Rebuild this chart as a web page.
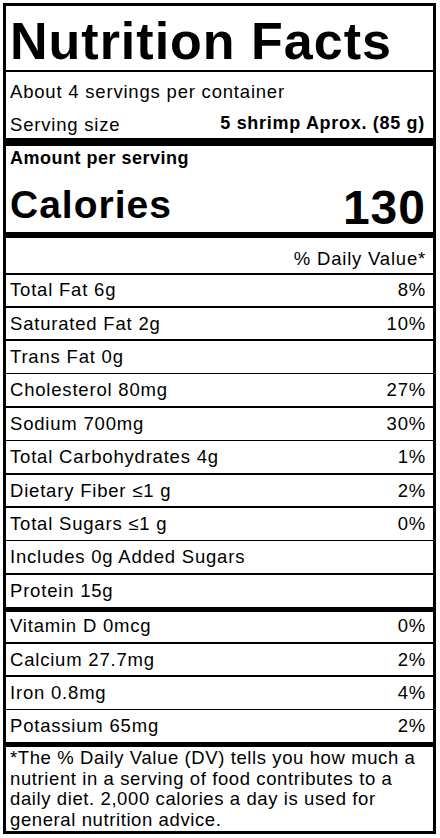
<!DOCTYPE html>
<html><head><meta charset="utf-8">
<script src="https://cdn.jsdelivr.net/npm/chart.js@4"></script>
<style>
body{margin:0;background:#fff;font-family:"Liberation Sans",Arial,sans-serif;color:#000}
#lbl{position:absolute;left:3px;top:3px;width:427px;height:825px;border:3px solid #000}
.t{position:absolute;white-space:nowrap}
.ln{position:absolute;left:0;width:427px;background:#000}
</style></head><body>
<div id="lbl"></div>
<script>
const title="Nutrition Facts";
const servings="About 4 servings per container";
const servingSize=["Serving size","5 shrimp Aprox. (85 g)"];
const calories=["Calories","130"];
const nutrients=["Total Fat 6g","Saturated Fat 2g","Trans Fat 0g","Cholesterol 80mg","Sodium 700mg","Total Carbohydrates 4g","Dietary Fiber ≤1 g","Total Sugars ≤1 g","Includes 0g Added Sugars","Protein 15g"];
const nutrientDV=["8%","10%","","27%","30%","1%","2%","0%","",""];
const vitamins=["Vitamin D 0mcg","Calcium 27.7mg","Iron 0.8mg","Potassium 65mg"];
const vitaminDV=["0%","2%","4%","2%"];
const footnote="*The % Daily Value (DV) tells you how much a nutrient in a serving of food contributes to a daily diet. 2,000 calories  a day is used for general nutrition advice.";
const L=document.getElementById('lbl');
function t(s,x,y,sz,w,right,ls){const d=document.createElement('div');d.className='t';d.textContent=s;d.style.fontSize=sz+'px';d.style.fontWeight=w||400;d.style.letterSpacing=(ls==null?0.8:ls)+'px';d.style.top=(y-sz*0.58)+'px';d.style.lineHeight=sz*1.15+'px';if(right)d.style.right=x+'px';else d.style.left=x+'px';L.appendChild(d);}
function ln(y,h){const d=document.createElement('div');d.className='ln';d.style.top=y+'px';d.style.height=h+'px';L.appendChild(d);}
const o=-6;
t(title,4,42+o,52,700,false,1);
ln(70+o,1.5);
t(servings,4,92+o,18.5);
t(servingSize[0],4,125+o,18.5);t(servingSize[1],8,123+o,18,700,true,0.7);
ln(138+o,8);
t("Amount per serving",4,158+o,18,700,false,0.5);
t(calories[0],4,206+o,39,700,false,1);t(calories[1],7,208+o,48,700,true,1);
ln(232+o,6);
t("% Daily Value*",7,259+o,18.5,400,true);
ln(273+o,1.5);
nutrients.forEach((n,i)=>{const y=290+i*33.4+o;t(n,4,y,18.5);if(nutrientDV[i])t(nutrientDV[i],7,y,18.5,400,true);ln(y+16,i==nutrients.length-1?5:1.5);});
vitamins.forEach((n,i)=>{const y=626+i*33.4+o;t(n,4,y,18.5);t(vitaminDV[i],7,y,18.5,400,true);ln(y+16,i==vitamins.length-1?5:1.5);});
const f=document.createElement('div');f.className='t';f.style.whiteSpace='normal';f.style.left='4px';f.style.width='420px';f.style.top=(748+o)+'px';f.style.fontSize='18.5px';f.style.letterSpacing='0.6px';f.style.lineHeight='20.5px';f.textContent=footnote;L.appendChild(f);
</script></body></html>
